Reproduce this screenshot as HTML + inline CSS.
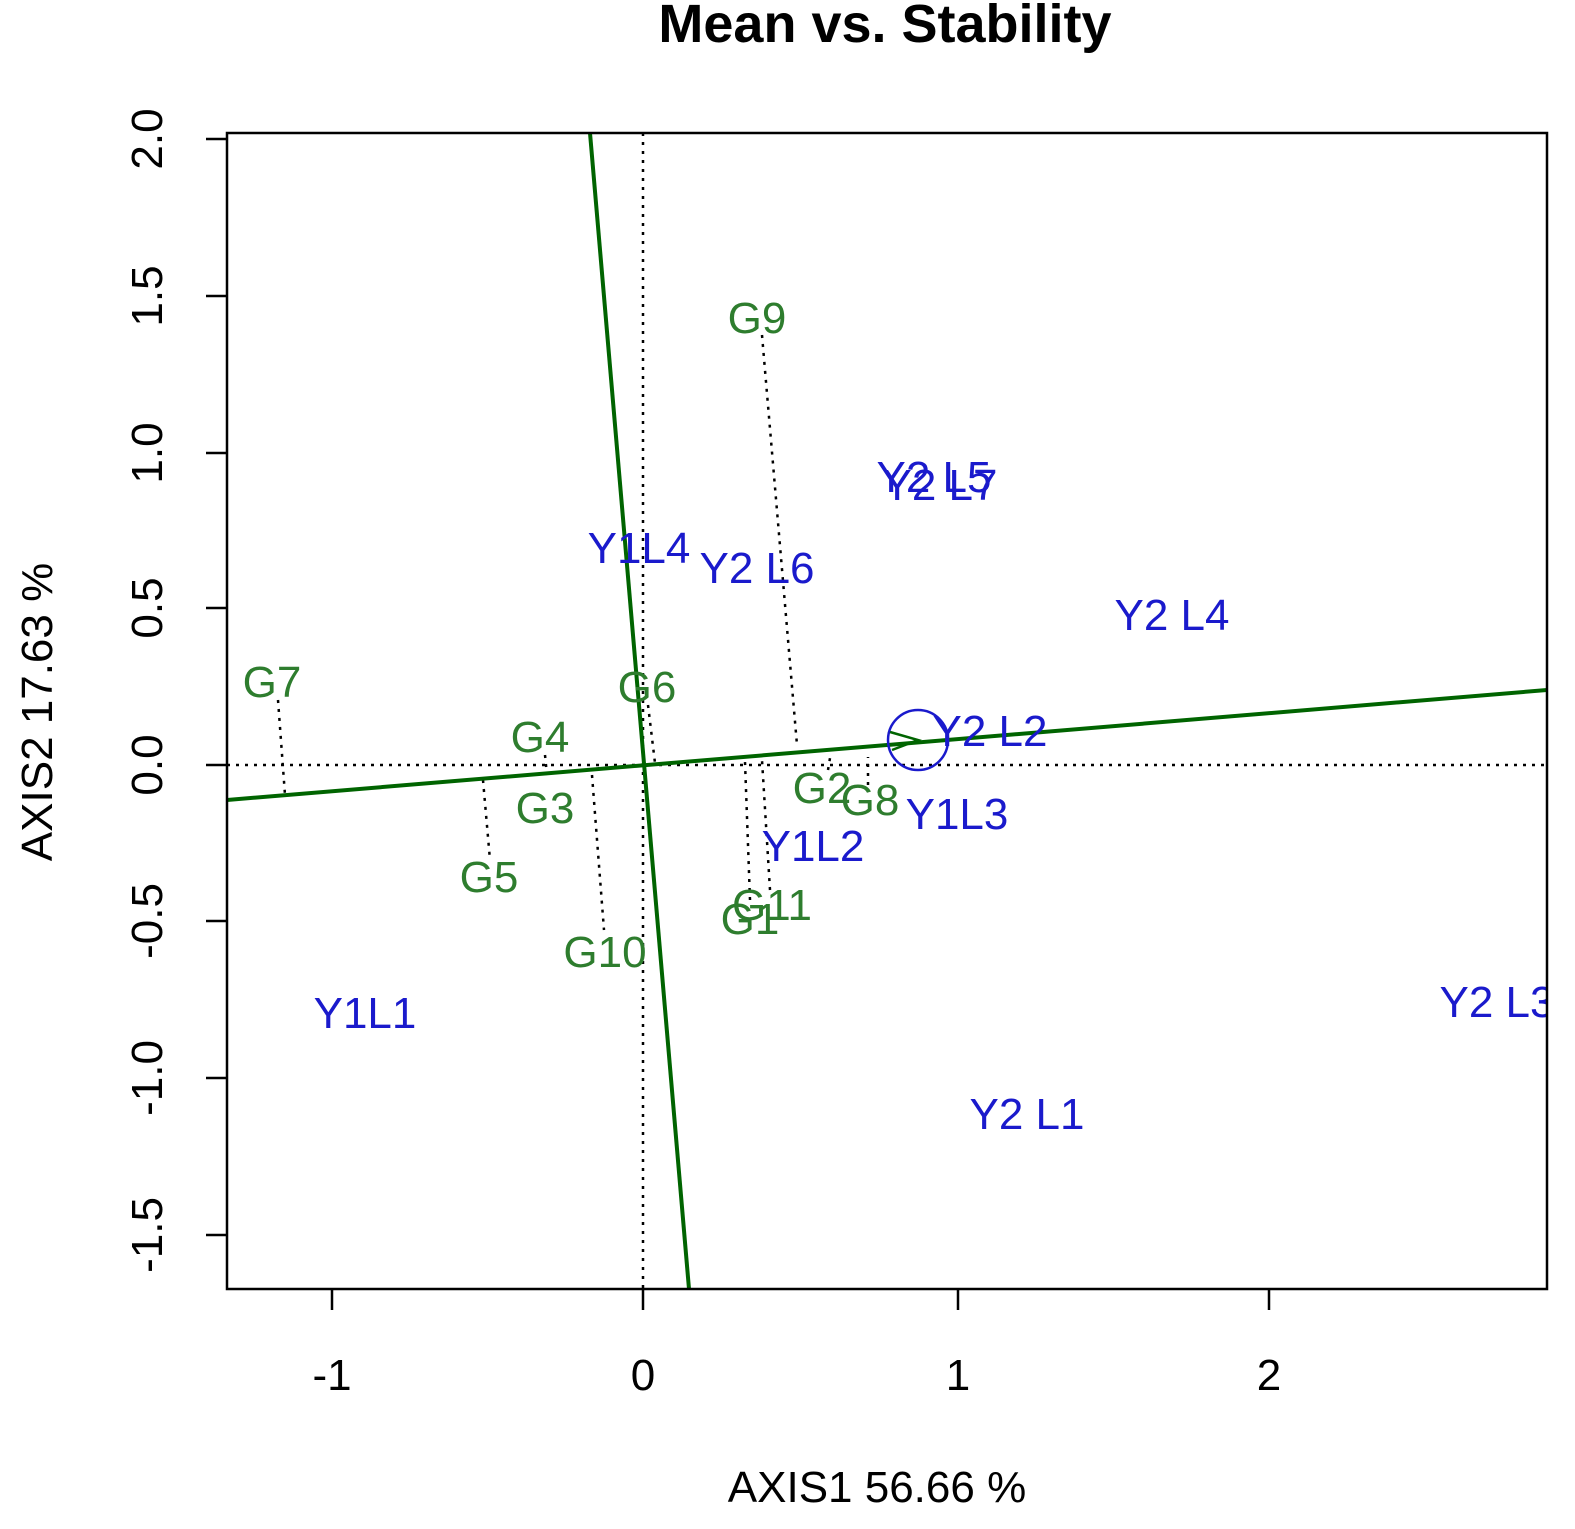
<!DOCTYPE html>
<html><head><meta charset="utf-8"><style>
html,body{margin:0;padding:0;background:#fff}
svg{display:block}
text{font-family:"Liberation Sans",Arial,sans-serif}
</style></head><body>
<svg width="1575" height="1529" viewBox="0 0 1575 1529" xmlns="http://www.w3.org/2000/svg">
<text x="885" y="42" font-size="54" font-weight="bold" text-anchor="middle">Mean vs. Stability</text>
<defs><clipPath id="c"><rect x="227" y="133" width="1320" height="1156"/></clipPath></defs>
<g clip-path="url(#c)">
<line x1="643" y1="133" x2="643" y2="1289" stroke="#000" stroke-width="2.5" stroke-dasharray="3,6"/>
<line x1="227" y1="765" x2="1547" y2="765" stroke="#000" stroke-width="2.5" stroke-dasharray="3,6"/>
<g stroke="#000" stroke-width="2.5" stroke-dasharray="3,6" fill="none">
<line x1="762" y1="335" x2="797" y2="745"/>
<line x1="278" y1="700" x2="285" y2="795"/>
<line x1="648" y1="705" x2="655" y2="763"/>
<line x1="545" y1="755" x2="547" y2="775"/>
<line x1="483" y1="780" x2="490" y2="860"/>
<line x1="592" y1="775" x2="604" y2="930"/>
<line x1="828" y1="770" x2="830" y2="758"/>
<line x1="868" y1="785" x2="868" y2="757"/>
<line x1="770" y1="890" x2="762" y2="760"/>
<line x1="750" y1="900" x2="745" y2="762"/>
</g>
<line x1="227" y1="800" x2="1547" y2="690" stroke="#006400" stroke-width="4"/>
<line x1="590" y1="133" x2="689" y2="1289" stroke="#006400" stroke-width="4"/>
<circle cx="918" cy="740" r="30" fill="none" stroke="#1a1acc" stroke-width="2.5"/>
<path d="M890 732 L918 740 L892 750" fill="none" stroke="#006400" stroke-width="2.5"/>
<g fill="#2e7d2e" font-size="44" text-anchor="middle">
<text x="757" y="333">G9</text>
<text x="272" y="697">G7</text>
<text x="647" y="702">G6</text>
<text x="540" y="752">G4</text>
<text x="545" y="823">G3</text>
<text x="489" y="892">G5</text>
<text x="605" y="967">G10</text>
<text x="822" y="803">G2</text>
<text x="870" y="815">G8</text>
<text x="772" y="920">G11</text>
<text x="750" y="934">G1</text>
</g>
<g fill="#1a1acc" font-size="44" text-anchor="middle">
<text x="934" y="492">Y2 L5</text>
<text x="940" y="500">Y2 L7</text>
<text x="639" y="563">Y1L4</text>
<text x="757" y="583">Y2 L6</text>
<text x="1172" y="630">Y2 L4</text>
<text x="990" y="746">Y2 L2</text>
<text x="957" y="829">Y1L3</text>
<text x="813" y="861">Y1L2</text>
<text x="365" y="1028">Y1L1</text>
<text x="1027" y="1129">Y2 L1</text>
<text x="1497" y="1017">Y2 L3</text>
</g>
</g>
<rect x="227" y="133" width="1320" height="1156" fill="none" stroke="#000" stroke-width="2.5"/>
<g stroke="#000" stroke-width="2.5">
<line x1="332" y1="1289" x2="332" y2="1310"/><line x1="643" y1="1289" x2="643" y2="1310"/>
<line x1="958" y1="1289" x2="958" y2="1310"/><line x1="1269" y1="1289" x2="1269" y2="1310"/>
<line x1="206" y1="139" x2="227" y2="139"/><line x1="206" y1="296" x2="227" y2="296"/>
<line x1="206" y1="453" x2="227" y2="453"/><line x1="206" y1="608" x2="227" y2="608"/>
<line x1="206" y1="765" x2="227" y2="765"/><line x1="206" y1="921" x2="227" y2="921"/>
<line x1="206" y1="1078" x2="227" y2="1078"/><line x1="206" y1="1235" x2="227" y2="1235"/>
</g>
<g font-size="44" text-anchor="middle">
<text x="332" y="1390">-1</text><text x="643" y="1390">0</text>
<text x="958" y="1390">1</text><text x="1269" y="1390">2</text>
<text x="877" y="1502">AXIS1 56.66 %</text>
</g>
<g font-size="44" text-anchor="middle">
<text transform="translate(162,139) rotate(-90)">2.0</text>
<text transform="translate(162,296) rotate(-90)">1.5</text>
<text transform="translate(162,453) rotate(-90)">1.0</text>
<text transform="translate(162,608) rotate(-90)">0.5</text>
<text transform="translate(162,765) rotate(-90)">0.0</text>
<text transform="translate(162,921) rotate(-90)">-0.5</text>
<text transform="translate(162,1078) rotate(-90)">-1.0</text>
<text transform="translate(162,1235) rotate(-90)">-1.5</text>
<text transform="translate(52,712) rotate(-90)">AXIS2 17.63 %</text>
</g>
</svg>
</body></html>
